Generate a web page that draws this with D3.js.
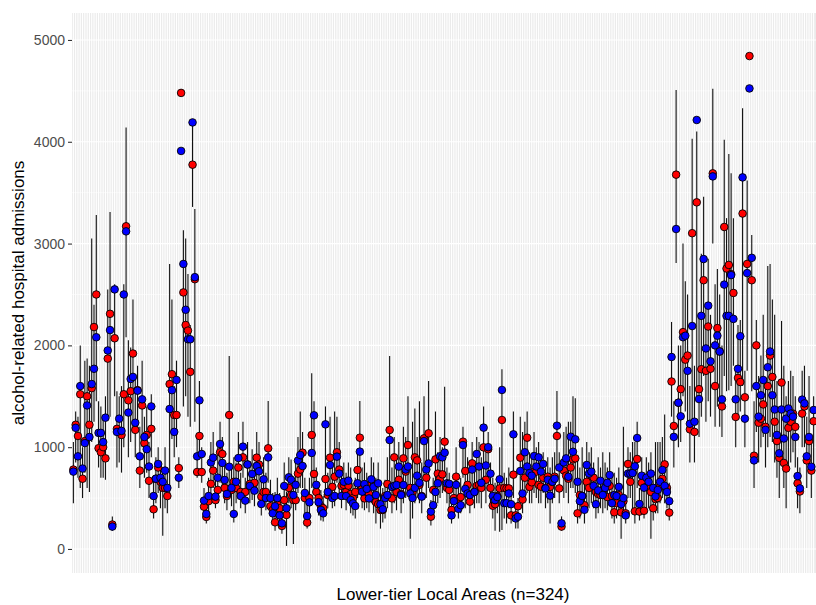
<!DOCTYPE html>
<html>
<head>
<meta charset="utf-8">
<script src="https://cdn.jsdelivr.net/npm/d3@7"></script>
<style>
  body { margin: 0; background: #fff; }
  text { font-family: "Liberation Sans", Arial, sans-serif; }
</style>
</head>
<body>
<svg id="chart" width="816" height="605"></svg>
<script>
// Values per local area (one entry per area, 324 areas).
var red = [
  780, 1220, 1110, 1520, 690, 1060, 1500, 1220, 1580, 2180,
  2500, 990, 950, 1000, 890, 1870, 2310, 240, 2070, 1180,
  1150, 1120, 1520, 3170, 1460, 1550, 1920, 1170, 1560, 770,
  1410, 1040, 1120, 670, 1180, 390, 690, 800, 660, 600,
  600, 520, 1620, 1717, 1316, 1316, 795, 4480, 2520, 2200,
  2145, 1740, 3775, 2650, 756, 1110, 756, 415, 315, 470,
  640, 770, 480, 580, 950, 933, 600, 520, 1316, 580,
  660, 600, 800, 560, 900, 560, 830, 640, 612, 650,
  897, 830, 514, 560, 560, 989, 420, 383, 262, 440,
  400, 226, 480, 334, 600, 530, 480, 480, 740, 780,
  946, 500, 259, 500, 1120, 737, 560, 500, 420, 400,
  687, 530, 897, 610, 710, 950, 780, 620, 630, 560,
  622, 540, 500, 560, 776, 1093, 600, 497, 560, 540,
  640, 620, 460, 440, 383, 383, 520, 638, 1169, 497,
  900, 560, 680, 540, 890, 760, 1021, 600, 560, 900,
  870, 630, 520, 1087, 700, 1136, 317, 580, 880, 740,
  690, 733, 1054, 600, 580, 383, 500, 710, 480, 510,
  1054, 766, 630, 465, 841, 560, 620, 630, 600, 998,
  680, 980, 600, 425, 440, 520, 595, 1267, 600, 595,
  595, 330, 730, 330, 420, 897, 485, 700, 1093, 610,
  655, 760, 760, 630, 612, 700, 600, 710, 610, 660,
  710, 1110, 595, 220, 770, 720, 690, 800, 880, 890,
  350, 530, 520, 430, 660, 600, 720, 700, 560, 540,
  530, 560, 600, 510, 620, 520, 360, 450, 530, 360,
  470, 350, 835, 660, 750, 370, 884, 367, 650, 375,
  610, 620, 560, 400, 490, 500, 620, 690, 831, 600,
  357, 1645, 1208, 3677, 1437, 1570, 2130, 1860, 1900, 1175,
  3102, 1150, 3405, 1570, 1766, 2640, 1750, 2185, 1770, 3690,
  1600, 2170, 1940, 1400, 3163, 2755, 2790, 2700, 2515, 1297,
  1680, 1640, 3295, 1490, 2800, 4842, 2640, 916, 2000, 1240,
  1280, 1420, 1200, 1600, 1900, 1690, 1250, 1060, 895, 1635,
  845, 790, 1190, 1250, 1330, 1200, 645, 565, 1330, 1400,
  870, 1060, 770, 1255
];

var blue = [
  760, 1190, 910, 1600, 790, 1040, 1410, 1100, 1620, 1770,
  2080, 1140, 1140, 1050, 1290, 1950, 2150, 220, 2550, 1150,
  1280, 1160, 2500, 3120, 1340, 1670, 1690, 1240, 1555, 910,
  1470, 1100, 980, 810, 1400, 520, 690, 835, 700, 660,
  770, 600, 1375, 1560, 1150, 1660, 700, 3910, 2800, 2350,
  2060, 2060, 4190, 2670, 910, 1460, 933, 475, 344, 520,
  850, 897, 514, 700, 1031, 845, 678, 540, 808, 600,
  344, 660, 893, 520, 1005, 475, 830, 619, 737, 573,
  815, 763, 442, 684, 500, 900, 500, 350, 420, 500,
  330, 252, 619, 400, 704, 680, 530, 630, 868, 923,
  815, 550, 324, 458, 943, 1313, 630, 460, 383, 350,
  1224, 560, 825, 500, 520, 907, 740, 520, 660, 520,
  671, 481, 448, 422, 645, 956, 563, 638, 590, 497,
  684, 610, 530, 645, 440, 390, 500, 530, 1070, 610,
  620, 628, 809, 530, 628, 780, 810, 545, 500, 600,
  720, 650, 514, 1060, 780, 840, 367, 430, 560, 645,
  910, 900, 946, 645, 640, 330, 470, 630, 395, 430,
  1021, 590, 545, 530, 780, 560, 933, 810, 650, 1192,
  820, 1000, 740, 520, 480, 510, 684, 1562, 450, 450,
  545, 440, 1126, 300, 317, 766, 545, 950, 810, 745,
  720, 913, 810, 900, 760, 835, 595, 680, 524, 660,
  690, 1211, 800, 252, 850, 890, 710, 1103, 955, 1077,
  660, 470, 520, 385, 825, 740, 760, 620, 440, 575,
  670, 530, 600, 650, 726, 450, 530, 520, 610, 440,
  500, 330, 740, 740, 746, 812, 1090, 442, 720, 602,
  700, 660, 740, 600, 517, 580, 660, 776, 620, 560,
  470, 1886, 1101, 3143, 1437, 1303, 2080, 2095, 1750, 1230,
  2190, 1250, 4214, 1473, 2290, 2848, 1970, 2390, 1843, 3660,
  2000, 2095, 1940, 1470, 2597, 2290, 2290, 2690, 2260, 1470,
  1770, 2090, 3650, 1280, 2710, 4524, 2860, 870, 1600, 1300,
  1510, 1660, 1170, 1785, 1940, 1510, 1370, 1120, 940, 1370,
  1085, 1280, 1380, 1330, 1300, 1100, 716, 595, 1467, 1430,
  910, 1100, 808, 1365
];

// lower and upper end of the vertical interval line
var lo = [
  450, 850, 700, 600, 500, 750, 600, 560, 1050, 1250,
  1450, 800, 700, 700, 680, 1300, 1300, 180, 1500, 800,
  850, 750, 1000, 2080, 900, 1050, 1150, 900, 1200, 600,
  1000, 700, 750, 500, 900, 300, 450, 550, 400, 130,
  400, 350, 550, 1080, 900, 1000, 600, 3880, 1400, 1500,
  1300, 1200, 3360, 1250, 700, 930, 650, 330, 250, 350,
  550, 600, 400, 450, 650, 600, 450, 380, 620, 420,
  260, 450, 600, 400, 700, 350, 600, 450, 480, 420,
  600, 550, 330, 450, 380, 650, 330, 250, 180, 350,
  230, 150, 380, 30, 450, 400, 50, 380, 550, 600,
  600, 350, 200, 330, 600, 550, 430, 330, 280, 270,
  500, 400, 600, 400, 420, 650, 550, 400, 480, 380,
  480, 350, 330, 300, 500, 600, 400, 380, 400, 360,
  450, 350, 250, 350, 200, 260, 300, 400, 500, 350,
  450, 380, 500, 350, 450, 500, 550, 100, 300, 450,
  500, 450, 350, 700, 500, 600, 230, 300, 400, 450,
  500, 550, 700, 450, 400, 250, 350, 450, 300, 350,
  700, 400, 450, 350, 500, 400, 450, 450, 400, 650,
  450, 600, 400, 300, 180, 350, 170, 187, 300, 250,
  400, 250, 500, 200, 200, 500, 350, 500, 550, 450,
  450, 550, 500, 450, 450, 550, 400, 450, 250, 450,
  500, 800, 450, 180, 500, 550, 450, 600, 600, 550,
  250, 300, 350, 250, 450, 400, 450, 400, 300, 350,
  400, 350, 400, 380, 450, 300, 250, 300, 350, 100,
  300, 250, 500, 500, 400, 250, 600, 280, 450, 300,
  400, 400, 100, 280, 350, 350, 450, 500, 450, 400,
  280, 1300, 800, 2810, 1000, 1050, 1500, 1350, 1250, 850,
  1170, 850, 1500, 1100, 1300, 1700, 1250, 1450, 1300, 3000,
  1200, 1400, 1200, 1100, 1700, 1550, 1560, 1600, 1800, 1000,
  1300, 1350, 1600, 1000, 1750, 4500, 1550, 600, 1150, 850,
  1000, 1100, 800, 1000, 1100, 1050, 850, 700, 500, 850,
  600, 400, 800, 850, 950, 800, 400, 350, 1000, 1000,
  600, 800, 500, 750
];

var hi = [
  1050, 1350, 1300, 2000, 1000, 1850, 1870, 1800, 3050, 2400,
  3280, 1450, 1400, 1300, 1500, 2550, 3310, 320, 2600, 1550,
  1500, 1600, 2600, 4140, 2050, 1980, 2450, 1700, 1800, 1200,
  1850, 1300, 1400, 1050, 1520, 700, 900, 1000, 850, 800,
  1000, 750, 2800, 2450, 1600, 1850, 900, 3940, 3130, 3050,
  2700, 2200, 4190, 3340, 1100, 1650, 1000, 600, 450, 700,
  1050, 1150, 700, 1000, 1250, 1100, 850, 750, 1896, 800,
  900, 850, 1150, 750, 1250, 700, 1050, 800, 980, 850,
  1150, 1050, 700, 900, 750, 1454, 680, 550, 560, 700,
  550, 400, 850, 560, 900, 880, 700, 850, 1100, 1350,
  1150, 700, 450, 700, 1725, 1450, 800, 650, 580, 520,
  1400, 750, 1300, 850, 1350, 1300, 1050, 800, 850, 750,
  850, 800, 650, 700, 950, 1454, 800, 850, 750, 700,
  900, 850, 700, 850, 650, 600, 680, 900, 1896, 800,
  1100, 900, 1050, 900, 1200, 1100, 1500, 800, 1250, 1380,
  1100, 1450, 850, 1500, 1100, 1650, 480, 700, 1350, 950,
  1100, 1000, 1594, 800, 750, 500, 650, 1000, 600, 700,
  1200, 1000, 900, 800, 1050, 750, 1100, 1050, 900, 1400,
  950, 1150, 850, 700, 650, 700, 1000, 1765, 750, 700,
  800, 550, 1350, 450, 500, 1300, 1150, 1250, 1350, 950,
  900, 1150, 1000, 1050, 900, 950, 800, 900, 800, 900,
  950, 1552, 950, 320, 1150, 1200, 1250, 1250, 1500, 1480,
  900, 800, 1000, 850, 1050, 950, 1000, 850, 700, 900,
  800, 950, 850, 800, 950, 750, 750, 700, 800, 600,
  1200, 500, 1000, 950, 1050, 1050, 1250, 600, 900, 750,
  900, 850, 950, 750, 1050, 1050, 1050, 1100, 1320, 800,
  650, 2230, 1450, 4509, 2000, 2000, 3000, 2630, 2500, 1600,
  4030, 1800, 4100, 2300, 2900, 3460, 2400, 2850, 2300, 4520,
  2600, 2750, 2500, 2000, 4020, 3250, 3880, 3690, 3250, 1800,
  2200, 2250, 4330, 1750, 3620, 4540, 3085, 1450, 2250, 1700,
  1900, 2300, 1600, 2780, 2800, 2450, 2300, 1650, 1400, 2240,
  1800, 1500, 1650, 1750, 1700, 1500, 900, 800, 1750, 1800,
  1300, 1700, 1100, 1500
];

var yTicks = [0, 1000, 2000, 3000, 4000, 5000];
var yMinor = [500, 1500, 2500, 3500, 4500];
var yTitle = "alcohol-related hospital admissions";
var xTitle = "Lower-tier Local Areas (n=324)";

// panel box (the picture is cut at its right edge)
var panelLeft = 72, panelRight = 815, panelTop = 13, panelBottom = 573;

var svg = d3.select("#chart");
var areas = d3.range(red.length);

var x = d3.scalePoint()
    .domain(areas)
    .range([panelLeft, panelRight])
    .padding(0.6);

var y = d3.scaleLinear()
    .domain([-236, 5265])
    .range([panelBottom, panelTop]);

drawPanel();
drawRanges();
drawPoints(red, "#ff0000");
drawPoints(blue, "#0000ff");
drawAxes();

function drawPanel() {
    svg.append("rect")
        .attr("x", panelLeft)
        .attr("y", panelTop)
        .attr("width", 816 - panelLeft)
        .attr("height", panelBottom - panelTop)
        .attr("fill", "#ebebeb");

    //minor horizontal grid
    svg.append("g").selectAll("line").data(yMinor).enter().append("line")
        .attr("x1", panelLeft).attr("x2", 816)
        .attr("y1", function(d) { return y(d); })
        .attr("y2", function(d) { return y(d); })
        .attr("stroke", "#ffffff")
        .attr("stroke-width", 0.55);

    //major horizontal grid
    svg.append("g").selectAll("line").data(yTicks).enter().append("line")
        .attr("x1", panelLeft).attr("x2", 816)
        .attr("y1", function(d) { return y(d); })
        .attr("y2", function(d) { return y(d); })
        .attr("stroke", "#ffffff")
        .attr("stroke-width", 1.1);

    //one vertical grid line per area
    svg.append("g").selectAll("line").data(areas).enter().append("line")
        .attr("x1", function(d) { return x(d); })
        .attr("x2", function(d) { return x(d); })
        .attr("y1", panelTop).attr("y2", panelBottom)
        .attr("stroke", "#ffffff")
        .attr("stroke-width", 1.1);
}

function drawRanges() {
    svg.append("g").selectAll("line").data(areas).enter().append("line")
        .attr("x1", function(d) { return x(d); })
        .attr("x2", function(d) { return x(d); })
        .attr("y1", function(d) { return y(lo[d]); })
        .attr("y2", function(d) { return y(hi[d]); })
        .attr("stroke", "#111111")
        .attr("stroke-width", 1.1);
}

function drawPoints(values, colour) {
    svg.append("g").selectAll("circle").data(areas).enter().append("circle")
        .attr("cx", function(d) { return x(d); })
        .attr("cy", function(d) { return y(values[d]); })
        .attr("r", 3.8)
        .attr("fill", colour)
        .attr("stroke", "#000000")
        .attr("stroke-width", 0.9);
}

function drawAxes() {
    var axis = d3.axisLeft(y)
        .tickValues(yTicks)
        .tickSize(4)
        .tickPadding(3)
        .tickFormat(d3.format("d"));

    var g = svg.append("g")
        .attr("transform", "translate(" + panelLeft + ",0)")
        .call(axis);
    g.select(".domain").remove();
    g.selectAll(".tick line").attr("stroke", "#333333").attr("stroke-width", 1.1);
    g.selectAll(".tick text")
        .attr("fill", "#4d4d4d")
        .style("font-size", "14px")
        .style("font-family", "'Liberation Sans', Arial, sans-serif");

    svg.append("text")
        .attr("x", 453)
        .attr("y", 600)
        .attr("text-anchor", "middle")
        .style("font-size", "17px")
        .attr("fill", "#000")
        .text(xTitle);

    svg.append("text")
        .attr("transform", "translate(24," + ((panelTop + panelBottom) / 2) + ") rotate(-90)")
        .attr("text-anchor", "middle")
        .style("font-size", "17px")
        .attr("fill", "#000")
        .text(yTitle);
}
</script>
</body>
</html>
